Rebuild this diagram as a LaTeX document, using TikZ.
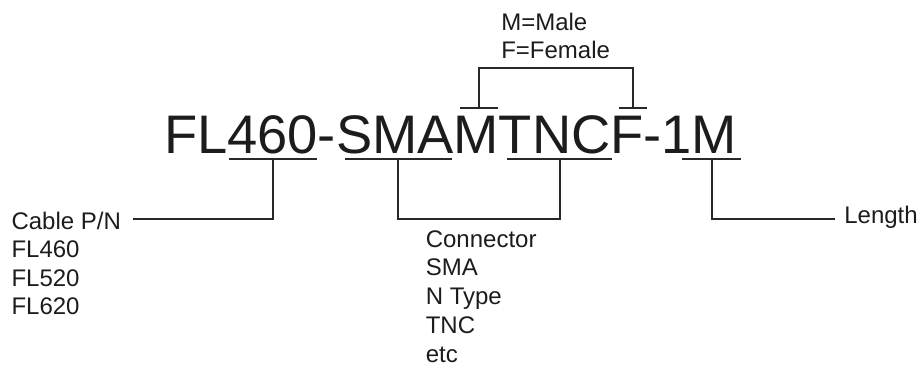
\documentclass[tikz,border=0pt]{standalone}
\usepackage{fontspec}
\setmainfont{Liberation Sans}
\definecolor{ink}{RGB}{30,27,28}
\definecolor{wire}{RGB}{40,40,40}
\begin{document}
\begin{tikzpicture}[x=1pt,y=-1pt,
  lbl/.style={anchor=base west,inner sep=0pt,outer sep=0pt,text=ink,font=\fontsize{24}{28}\selectfont},
  big/.style={anchor=base west,inner sep=0pt,outer sep=0pt,text=ink,font=\fontsize{54.3}{60}\selectfont},
  wireline/.style={draw=wire,line width=1.1pt}]
\useasboundingbox (0,0) rectangle (920,368);
% main part number
\node[big] (pn) at (164,153.5) {FL460-SMAMTNCF-1M};
% underline / overline coordinates
\coordinate (u1a) at (229,159); \coordinate (u1b) at (317,159); \coordinate (u1m) at (273,159);
\coordinate (u2a) at (345,159); \coordinate (u2b) at (452,159); \coordinate (u2m) at (398,159);
\coordinate (u3a) at (507,159); \coordinate (u3b) at (612,159); \coordinate (u3m) at (560,159);
\coordinate (u4a) at (682,159); \coordinate (u4b) at (741,159); \coordinate (u4m) at (712,159);
\coordinate (o1a) at (460,108); \coordinate (o1b) at (498,108); \coordinate (o1m) at (479,108);
\coordinate (o2a) at (619,108); \coordinate (o2b) at (647,108); \coordinate (o2m) at (633,108);
\coordinate (cabend) at (133,219);
\coordinate (lenend) at (835,219);
% labels
\foreach \t [count=\i] in {Cable P/N,FL460,FL520,FL620}
  \node[lbl] (cab\i) at (11.5,{229+28.6*(\i-1)}) {\t};
\foreach \t [count=\i] in {Connector,SMA,N Type,TNC,etc}
  \node[lbl] (con\i) at (425.8,{247+28.75*(\i-1)}) {\t};
\node[lbl] (male) at (501.3,30) {M=Male};
\node[lbl] (female) at (501.3,58) {F=Female};
\node[lbl] (len) at (844.3,223) {Length};
% lines
\draw[wireline] (u1a) -- (u1b);
\draw[wireline] (u2a) -- (u2b);
\draw[wireline] (u3a) -- (u3b);
\draw[wireline] (u4a) -- (u4b);
\draw[wireline] (o1a) -- (o1b);
\draw[wireline] (o2a) -- (o2b);
\draw[wireline] (u1m) |- (cabend);
\draw[wireline] (u2m) -- (u2m |- 0,219) -- (u3m |- 0,219) -- (u3m);
\draw[wireline] (u4m) |- (lenend);
\draw[wireline] (o1m) -- (o1m |- 0,68) -- (o2m |- 0,68) -- (o2m);
\end{tikzpicture}
\end{document}
